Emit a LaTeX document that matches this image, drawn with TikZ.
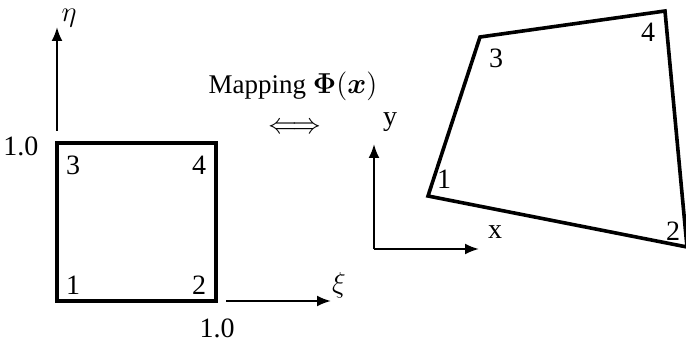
\documentclass[tikz,border=0pt]{standalone}
\usepackage{amsmath}
\usepackage{bm}
\usepackage{fontspec}
\setmainfont{Liberation Serif}
\usetikzlibrary{arrows.meta}
\begin{document}
\begin{tikzpicture}[x=0.5pt,y=-0.5pt,
  edge/.style={line width=1.8pt, line join=miter, line cap=rect},
  axis/.style={line width=1.1pt,-{Latex[length=7pt,width=5.5pt]}},
  lbl/.style={inner sep=0pt, font=\fontsize{14pt}{16pt}\selectfont}]
\useasboundingbox (0,0) rectangle (686,342);
% reference element
\coordinate (s1) at (57,301);
\coordinate (s2) at (216,301);
\coordinate (s3) at (57,143);
\coordinate (s4) at (216,143);
\draw[edge] (s1) -- (s2) -- (s4) -- (s3) -- cycle;
\coordinate (etaS) at (57,131);
\coordinate (etaE) at (57,27);
\draw[axis] (etaS) -- (etaE);
\coordinate (xiS) at (226,301);
\coordinate (xiE) at (331,301);
\draw[axis] (xiS) -- (xiE);
\node[lbl] (eta) at (69,18) {$\eta$};
\node[lbl] (xi) at (339,285) {$\xi$};
\node[lbl] (one1) at (21,146) {1.0};
\node[lbl] (one2) at (217,328) {1.0};
\node[lbl] (n1) at (73,285) {1};
\node[lbl] (n2) at (199,285) {2};
\node[lbl] (n3) at (73,165) {3};
\node[lbl] (n4) at (199,165) {4};
% mapping
\node[lbl, font=\fontsize{13.5pt}{16pt}\selectfont] (map) at (293,86) {Mapping $\bm{\Phi}(\bm{x})$};
\node[lbl] (iff) at (295,128) {$\Longleftrightarrow$};
% physical element
\coordinate (yS) at (374,249);
\coordinate (yE) at (374,144);
\coordinate (xE) at (479,249);
\draw[axis] (yS) -- (yE);
\draw[axis] (yS) -- (xE);
\node[lbl] (ylab) at (390,122) {y};
\node[lbl] (xlab) at (495,232) {x};
\coordinate (q1) at (428,196);
\coordinate (q2) at (687,247);
\coordinate (q3) at (480,37);
\coordinate (q4) at (665,11);
\draw[edge] (q1) -- (q2) -- (q4) -- (q3) -- cycle;
\node[lbl] (m1) at (444,179) {1};
\node[lbl] (m2) at (673,231) {2};
\node[lbl] (m3) at (496,58) {3};
\node[lbl] (m4) at (648,32) {4};
\end{tikzpicture}
\end{document}
